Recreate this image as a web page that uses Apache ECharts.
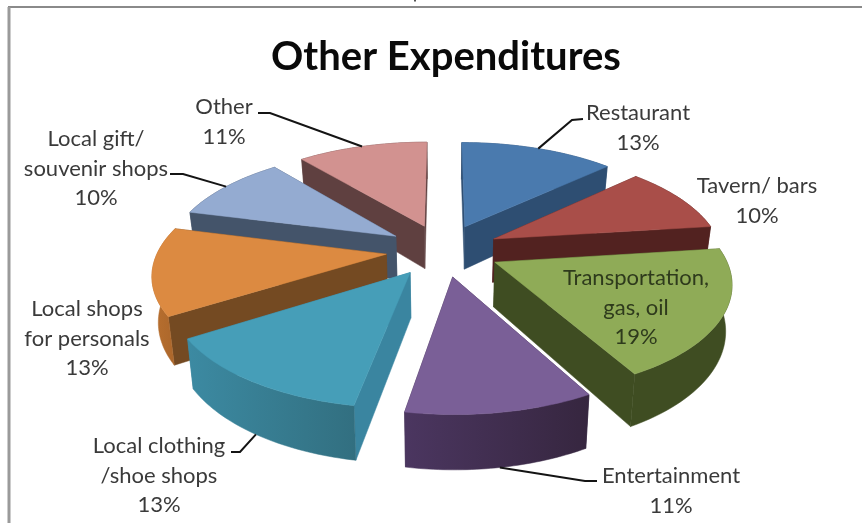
<!DOCTYPE html>
<html>
<head>
<meta charset="utf-8">
<style>
html,body{margin:0;padding:0;background:#fff;}
#chart{width:862px;height:523px;filter:blur(0.55px);}
</style>
<script src="https://cdn.jsdelivr.net/npm/echarts@6/dist/echarts.min.js"></script>
</head>
<body>
<div id="chart"></div>
<script>
// ---- data ----
const categories = ['Restaurant','Tavern/ bars','Transportation, gas, oil','Entertainment','Local clothing /shoe shops','Local shops for personals','Local gift/ souvenir shops','Other'];
const shares = [13,10,19,10.8,13.2,13,10,11];
const labelLines = [['Restaurant'],['Tavern/ bars'],['Transportation,','gas, oil'],['Entertainment'],['Local clothing','/shoe shops'],['Local shops','for personals'],['Local gift/','souvenir shops'],['Other']];

// ---- styles ----
const topColors  = ['#4a7aae','#a94e49','#8fab57','#7a5f97','#469eb8','#dc8a41','#94abd1','#d29290'];
const cutColors  = ['#2e4e72','#522220','#3f4d22','#3d2c4b','#3a85a0','#744a22','#44546a','#5f4040'];
const rimColors  = [['#2e4e72','#2e4e72'],['#522220','#522220'],['#3f4d22','#3f4d22'],['#4b3660','#36263f'],['#3c8aa2','#326f80'],['#b9702f','#a8642a'],['#44546a','#44546a'],['#5f4040','#5f4040']];
// label placement: text centre, optional leader elbow + end
const labelBoxes = [
  {x:638,y:113,fill:'#3a3a3a',elbow:[572,120],end:[583,119]},
  {x:757,y:186,fill:'#3a3a3a'},
  {x:636,y:278,fill:'#2e3a1c'},
  {x:671,y:476,fill:'#3a3a3a',elbow:[585,481],end:[597,481],wall:true},
  {x:159,y:446,fill:'#3a3a3a',elbow:[240,452],end:[231,452],wall:true},
  {x:87,y:309,fill:'#3a3a3a'},
  {x:96,y:139,fill:'#3a3a3a',elbow:[183,174],end:[170,174]},
  {x:224,y:107,fill:'#3a3a3a',elbow:[270,113],end:[258,113]}
];

// ---- projection of the tilted, exploded pie ----
const CX=443, CY=250, A=228, B=105, PERSP=0.164, EXPLODE=0.25, H=44, FOOT=0.978, LINE=29.5;
const total = shares.reduce((a,b)=>a+b,0);
const angleAt = (acc)=>acc/total*2*Math.PI;
function project(u,w,below){
  const s=1/(1+PERSP*w);
  let x=CX+A*u*s, y=CY-B*w*s;
  if(below){ x=CX+(x-CX)*FOOT; y+=H*s; }
  return [x,y];
}
const slices=[]; let acc=0;
shares.forEach(v=>{
  const a0=angleAt(acc), a1=angleAt(acc+v), m=(a0+a1)/2;
  slices.push({a0,a1,m,ox:EXPLODE*Math.sin(m),oz:EXPLODE*Math.cos(m)});
  acc+=v;
});
const rimPt=(sl,t,below)=>project(sl.ox+Math.sin(t),sl.oz+Math.cos(t),below);
const apex=(sl,below)=>project(sl.ox,sl.oz,below);

function renderSlice(params){
  const i=params.dataIndex, sl=slices[i], N=40, rim=[], rimB=[];
  for(let k=0;k<=N;k++){
    const t=sl.a0+(sl.a1-sl.a0)*k/N;
    rim.push(rimPt(sl,t,false)); rimB.push(rimPt(sl,t,true));
  }
  const base=Math.round((1-Math.cos(sl.m))*100);
  const ap=apex(sl,false), apB=apex(sl,true);
  const face=(pts,fill,z)=>({type:'polygon',shape:{points:pts},style:{fill:fill,stroke:fill,lineWidth:0.5},z2:z});
  const startCut=face([ap,rim[0],rimB[0],apB],cutColors[i],base);
  const endCut=face([ap,rim[N],rimB[N],apB],cutColors[i],base);
  const cuts=Math.sin(sl.m)>0?[startCut,endCut]:[endCut,startCut];
  cuts[1].z2=base+1;
  const wall=face(rim.concat(rimB.slice().reverse()),{type:'linear',x:0,y:0,x2:1,y2:0,colorStops:[{offset:0,color:rimColors[i][0]},{offset:1,color:rimColors[i][1]}]},base+2);
  const top=face([ap].concat(rim),topColors[i],base+3);
  const children=cuts.concat([wall,top]);

  const box=labelBoxes[i];
  const lines=labelLines[i].concat([Math.round(shares[i])+'%']);
  lines.forEach((t,n)=>children.push({type:'text',z2:500,style:{
    text:t,x:box.x,y:box.y+n*LINE,textAlign:'center',textVerticalAlign:'middle',
    font:'22px Lato',fill:box.fill}}));
  if(box.elbow){
    const st=rimPt(sl,sl.m,!!box.wall);
    children.push({type:'polyline',z2:499,shape:{points:[st,box.elbow,box.end]},style:{stroke:'#141414',lineWidth:2,fill:null}});
  }
  return {type:'group',children};
}

const chart=echarts.init(document.getElementById('chart'),null,{renderer:'canvas'});
chart.setOption({
  animation:false,
  backgroundColor:'#ffffff',
  title:{text:'Other Expenditures',left:441,top:32,textAlign:'center',
    textStyle:{fontFamily:'Lato',fontWeight:'bold',fontSize:40,color:'#0a0a0a'}},
  graphic:[
    {type:'line',shape:{x1:8,y1:7,x2:862,y2:7},style:{stroke:'#8a8a8a',lineWidth:2}},
    {type:'line',shape:{x1:9,y1:7,x2:9,y2:523},style:{stroke:'#9a9a9a',lineWidth:3}},
    {type:'line',shape:{x1:414,y1:0,x2:416,y2:0},style:{stroke:'#555',lineWidth:3}}
  ],
  series:[{
    type:'custom',coordinateSystem:'none',
    data:categories.map((c,i)=>({name:c,value:shares[i]})),
    renderItem:renderSlice
  }]
});
</script>
</body>
</html>
